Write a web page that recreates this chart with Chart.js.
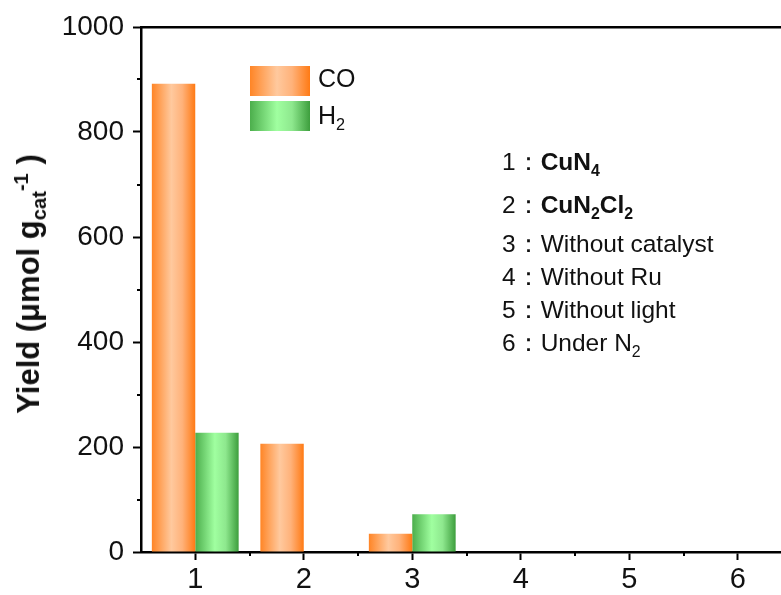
<!DOCTYPE html>
<html>
<head>
<meta charset="utf-8">
<script src="https://cdn.jsdelivr.net/npm/chart.js@4/dist/chart.umd.min.js"></script>
<style>
    body { margin: 0; background: #fff; overflow: hidden; }
    #wrap { position: relative; width: 792px; height: 595px; }
    .txt { position: absolute; font-family: "Liberation Sans", Arial, sans-serif; color: #111; white-space: nowrap; }
    .box { position: absolute; width: 60px; height: 30px; }
    sub, sup { font-size: 65%; line-height: 0; }
</style>
</head>
<body>
<div id="wrap">
    <canvas id="yield-chart" width="792" height="595"></canvas>

    <div class="txt" style="left:29px; top:284px; font-size:31px; font-weight:bold; transform:translate(-50%,-50%) rotate(-90deg);">Yield (μmol g<sub>cat</sub><sup>-1</sup> )</div>

    <div class="box" style="left:250px; top:66px; background:linear-gradient(to right,#ff8526,#ffc99e 45%,#ffb27a 70%,#ff7a14);"></div>
    <div class="txt" style="left:318px; top:64px; font-size:25px;">CO</div>
    <div class="box" style="left:250px; top:101px; background:linear-gradient(to right,#4cae4c,#a0ffa0 45%,#8ee88e 70%,#3d9e3d);"></div>
    <div class="txt" style="left:318px; top:101px; font-size:25px;">H<sub>2</sub></div>

    <div class="txt" style="left:502px; top:145px; font-size:24.5px;">1：<b>CuN<sub>4</sub></b></div>
    <div class="txt" style="left:502px; top:188px; font-size:24.5px;">2：<b>CuN<sub>2</sub>Cl<sub>2</sub></b></div>
    <div class="txt" style="left:502px; top:227px; font-size:24.5px;">3：Without catalyst</div>
    <div class="txt" style="left:502px; top:260px; font-size:24.5px;">4：Without Ru</div>
    <div class="txt" style="left:502px; top:293px; font-size:24.5px;">5：Without light</div>
    <div class="txt" style="left:502px; top:326px; font-size:24.5px;">6：Under N<sub>2</sub></div>
</div>
<script>
const categories = ["1", "2", "3", "4", "5", "6"];
const coYield = [892, 206, 35, 0, 0, 0];
const h2Yield = [227, 0, 72, 0, 0, 0];
const yTicks = [0, 200, 400, 600, 800, 1000];

const coStops = ["#ff8526", "#ffc99e", "#ffb27a", "#ff7a14"];
const h2Stops = ["#4cae4c", "#a0ffa0", "#8ee88e", "#3d9e3d"];

// horizontal gradient for each bar, placed from the x scale
function barGradient(stops) {
    return (ctx) => {
        const chart = ctx.chart;
        const x = chart.scales.x;
        if (!chart.chartArea || !x) return stops[0];
        const step = x.getPixelForValue(1) - x.getPixelForValue(0);
        const w = step * 0.8 / 2;
        const left = x.getPixelForValue(ctx.dataIndex) - w + ctx.datasetIndex * w;
        const g = chart.ctx.createLinearGradient(left, 0, left + w, 0);
        g.addColorStop(0, stops[0]);
        g.addColorStop(0.45, stops[1]);
        g.addColorStop(0.7, stops[2]);
        g.addColorStop(1, stops[3]);
        return g;
    };
}

// short minor ticks between the major ones
const minorTicks = {
    id: "minorTicks",
    afterDraw(chart) {
        const c = chart.ctx;
        const x = chart.scales.x, y = chart.scales.y;
        const area = chart.chartArea;
        c.save();
        c.strokeStyle = "#000";
        c.lineWidth = 2;
        c.beginPath();
        for (let v = 100; v < 1000; v += 200) {
            const py = Math.round(y.getPixelForValue(v));
            c.moveTo(area.left, py);
            c.lineTo(area.left - 4, py);
        }
        const step = x.getPixelForValue(1) - x.getPixelForValue(0);
        for (let i = 0; i < categories.length; i++) {
            const px = Math.round(x.getPixelForValue(i) + step / 2);
            c.moveTo(px, area.bottom);
            c.lineTo(px, area.bottom + 4);
        }
        c.stroke();
        c.restore();
    }
};

new Chart(document.getElementById("yield-chart").getContext("2d"), {
    type: "bar",
    data: {
        labels: categories,
        datasets: [
            { label: "CO", data: coYield, backgroundColor: barGradient(coStops), borderWidth: 0 },
            { label: "H2", data: h2Yield, backgroundColor: barGradient(h2Stops), borderWidth: 0 }
        ]
    },
    options: {
        responsive: false,
        animation: false,
        layout: { padding: { top: 27, left: 0, right: 0, bottom: 0 } },
        datasets: { bar: { barPercentage: 1, categoryPercentage: 0.8 } },
        plugins: { legend: { display: false }, tooltip: { enabled: false } },
        scales: {
            x: {
                grid: { display: true, drawOnChartArea: false, offset: false, tickLength: 8, tickWidth: 2, tickColor: "#000" },
                border: { color: "#000", width: 2.5 },
                ticks: { color: "#111", padding: 3, font: { family: "Liberation Sans", size: 29 } },
                afterFit: (s) => { s.height = 43; }
            },
            x2: {
                position: "top",
                labels: categories,
                grid: { display: false },
                ticks: { display: false },
                border: { color: "#000", width: 2.5 },
                afterFit: (s) => { s.height = 0; }
            },
            y: {
                min: 0,
                max: 1000,
                afterBuildTicks: (s) => { s.ticks = yTicks.map(v => ({ value: v })); },
                grid: { display: true, drawOnChartArea: false, tickLength: 8, tickWidth: 2, tickColor: "#000" },
                border: { color: "#000", width: 2.5 },
                ticks: { color: "#111", padding: 9, font: { family: "Liberation Sans", size: 28 }, callback: (v) => String(v) },
                afterFit: (s) => { s.width = 141; }
            }
        }
    },
    plugins: [minorTicks]
});
</script>
</body>
</html>
